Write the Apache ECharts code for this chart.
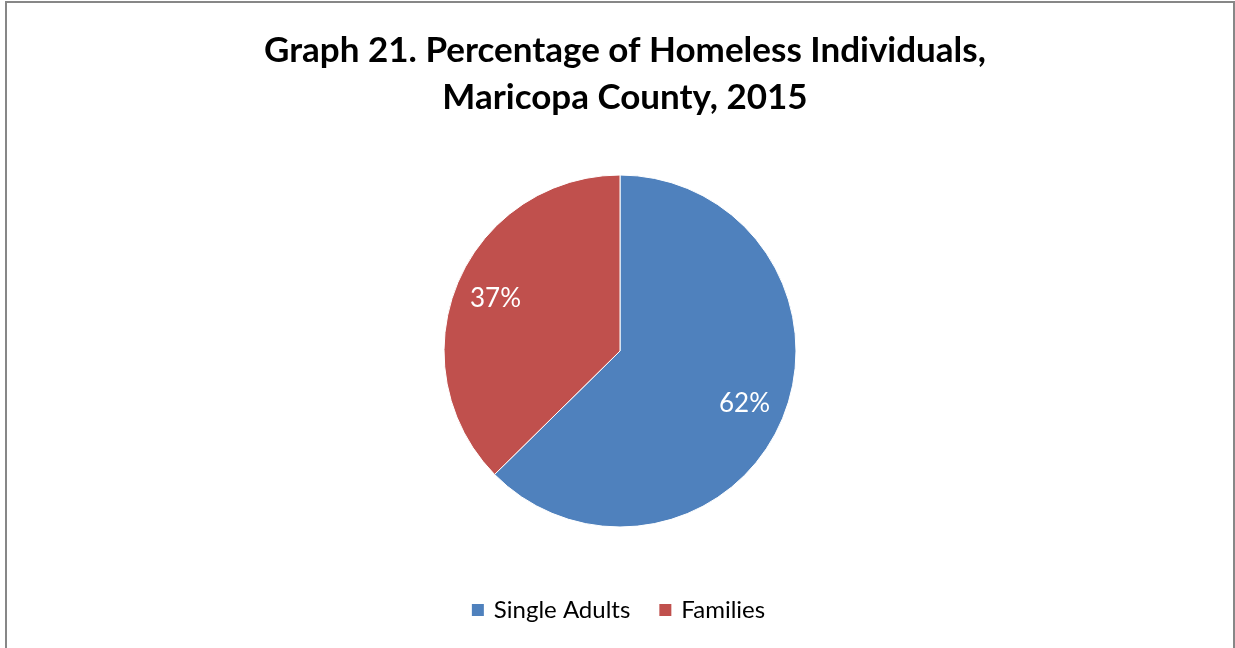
<!DOCTYPE html>
<html>
<head>
<meta charset="utf-8">
<script src="https://cdn.jsdelivr.net/npm/echarts@6/dist/echarts.min.js"></script>
<style>
  html, body { margin: 0; padding: 0; background: #fff; }
  #chart { width: 1235px; height: 648px; }
</style>
</head>
<body>
<div id="chart"></div>
<script>
// Homeless individuals by household type, Maricopa County, 2015
const categories = ['Single Adults', 'Families'];
const percentages = [62, 37];
const colors = ['#4F81BD', '#C0504D'];

const FONT = 'Lato, "Open Sans", sans-serif';
const chart = echarts.init(document.getElementById('chart'), null, { renderer: 'canvas' });

const sliceData = categories.map((name, i) => ({
  name,
  value: percentages[i],
  itemStyle: { color: colors[i] }
}));

chart.setOption({
  animation: false,
  title: {
    text: 'Graph 21. Percentage of Homeless Individuals,\nMaricopa County, 2015',
    left: 620,
    top: 22,
    textAlign: 'center',
    textStyle: {
      fontFamily: FONT,
      fontSize: 35,
      fontWeight: 'bold',
      color: '#000',
      lineHeight: 47
    }
  },
  legend: {
    data: categories,
    bottom: 21,
    left: 'center',
    itemWidth: 14,
    itemHeight: 14,
    itemGap: 27,
    icon: 'rect',
    textStyle: { fontFamily: FONT, fontSize: 24, color: '#000', padding: [0, 0, 0, 4] }
  },
  graphic: [{
    type: 'rect',
    shape: { x: 6, y: 2, width: 1228, height: 700 },
    style: { fill: 'none', stroke: '#878787', lineWidth: 2 },
    silent: true
  }],
  series: [
    {
      // filled slices
      type: 'pie',
      center: [620, 351],
      radius: 176,
      startAngle: 90,
      clockwise: true,
      label: { show: false },
      labelLine: { show: false },
      itemStyle: { borderColor: '#fff', borderWidth: 1 },
      emphasis: { disabled: true },
      data: sliceData
    },
    {
      // transparent ring carrying the percentage labels
      type: 'pie',
      center: [620, 351],
      radius: [88, 176],
      startAngle: 90,
      clockwise: true,
      silent: true,
      legendHoverLink: false,
      itemStyle: { color: 'rgba(0,0,0,0)' },
      label: {
        show: true,
        position: 'inside',
        formatter: '{c}%',
        fontFamily: FONT,
        fontSize: 26,
        color: '#fff'
      },
      labelLine: { show: false },
      emphasis: { disabled: true },
      data: categories.map((name, i) => ({ name: name + ' ', value: percentages[i] }))
    }
  ]
});
</script>
</body>
</html>
